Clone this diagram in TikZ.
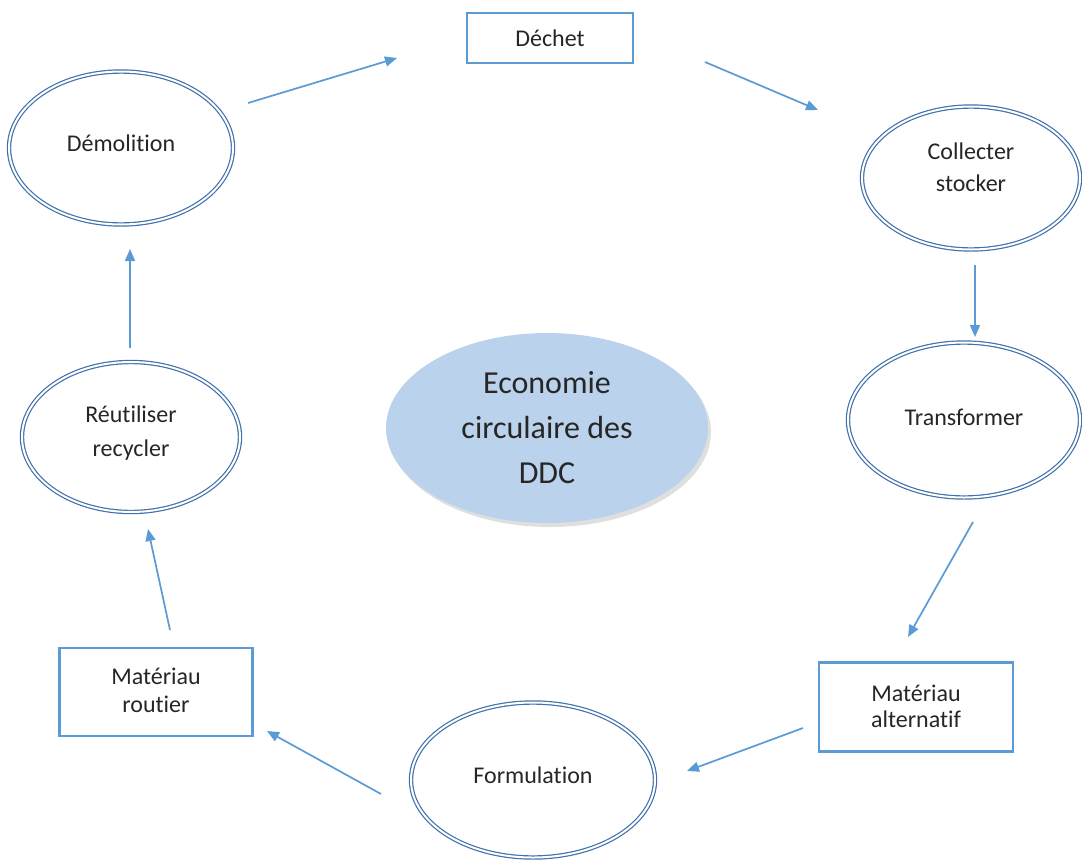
\documentclass[tikz,border=0pt]{standalone}
\usepackage{fontspec}
\setmainfont{Carlito}[RawFeature={-liga}]
\usetikzlibrary{shapes.geometric,arrows.meta,shadows}
\definecolor{boxblue}{RGB}{91,155,213}
\definecolor{ellblue}{RGB}{65,113,170}
\definecolor{arrblue}{RGB}{91,155,213}
\definecolor{centfill}{RGB}{186,210,235}
\definecolor{txt}{RGB}{38,38,38}
\tikzset{
  stage/.style={ellipse, draw=ellblue, line width=1.2pt, double=white, double distance=2pt,
    inner sep=0pt, align=center, text=txt, font=\fontsize{24}{34}\selectfont},
  boxnode/.style={rectangle, draw=boxblue, line width=2.6pt, inner sep=0pt, align=center,
    text=txt, font=\fontsize{24}{30}\selectfont},
  flow/.style={draw=arrblue, line width=1.7pt, -{Triangle[length=12pt,width=10pt]}},
}
\begin{document}
\begin{tikzpicture}[x=1pt,y=-1pt]
\useasboundingbox (0,0) rectangle (1082,860);
% nodes
\node[boxnode, minimum width=166pt, minimum height=50pt] (dechet) at (550,38) {Déchet};
\node[stage, minimum width=224pt, minimum height=153pt] (demol) at (121,148) {\raisebox{10pt}{Démolition}};
\node[stage, minimum width=218pt, minimum height=143pt] (collect) at (971,178) {\raisebox{22pt}{\shortstack{Collecter\\[12pt]stocker}}};
\node[stage, minimum width=232pt, minimum height=155pt] (transf) at (964,420) {\raisebox{5pt}{Transformer}};
\node[boxnode, minimum width=194pt, minimum height=89pt] (matalt) at (916,707) {\raisebox{2pt}{\shortstack{Matériau\\[6pt]alternatif}}};
\node[boxnode, minimum width=193pt, minimum height=88pt] (matrout) at (156,692) {\raisebox{4pt}{\shortstack{Matériau\\[8pt]routier}}};
\node[stage, minimum width=244pt, minimum height=155pt] (formul) at (533,780) {\raisebox{10pt}{Formulation}};
\node[stage, minimum width=218pt, minimum height=150pt] (reutil) at (131,437) {\raisebox{11pt}{\shortstack{Réutiliser\\[14pt]recycler}}};
\node[ellipse, fill=centfill, inner sep=0pt, minimum width=322pt, minimum height=190pt,
  drop shadow={shadow xshift=3pt, shadow yshift=-4pt, opacity=0.25},
  align=center, text=txt, font=\fontsize{32}{45}\selectfont] (center) at (547,428) {Economie\\circulaire des\\DDC};
% connector end points
\coordinate (a1s) at (248,103); \coordinate (a1e) at (397,58);
\coordinate (a2s) at (705,62);  \coordinate (a2e) at (818,110);
\coordinate (a3s) at (975,265); \coordinate (a3e) at (975,337);
\coordinate (a4s) at (973,522); \coordinate (a4e) at (908,637);
\coordinate (a5s) at (803,728); \coordinate (a5e) at (687,771);
\coordinate (a6s) at (381,794); \coordinate (a6e) at (267,731);
\coordinate (a7s) at (170,630); \coordinate (a7e) at (148,529);
\coordinate (a8s) at (130,348); \coordinate (a8e) at (130,249);
\draw[flow] (a1s) -- (a1e);
\draw[flow] (a2s) -- (a2e);
\draw[flow] (a3s) -- (a3e);
\draw[flow] (a4s) -- (a4e);
\draw[flow] (a5s) -- (a5e);
\draw[flow] (a6s) -- (a6e);
\draw[flow] (a7s) -- (a7e);
\draw[flow] (a8s) -- (a8e);
\end{tikzpicture}
\end{document}
